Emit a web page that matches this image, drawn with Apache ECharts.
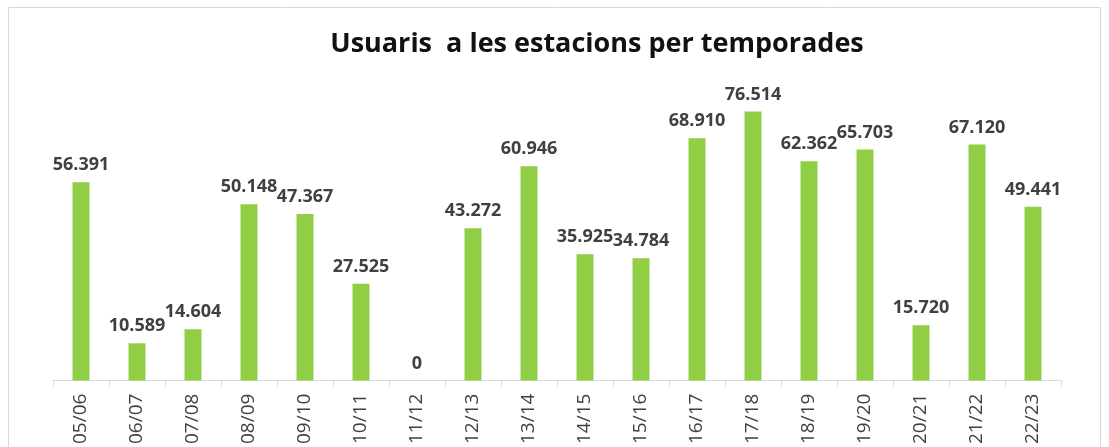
<!DOCTYPE html>
<html>
<head>
<meta charset="utf-8">
<script src="https://cdn.jsdelivr.net/npm/echarts@6/dist/echarts.min.js"></script>
<style>
  html, body { margin: 0; padding: 0; background: #fff; }
  #main { width: 1109px; height: 447px; }
</style>
</head>
<body>
<div id="main"></div>
<script>
// temporades i usuaris
var temporades = ['05/06','06/07','07/08','08/09','09/10','10/11','11/12','12/13','13/14',
                  '14/15','15/16','16/17','17/18','18/19','19/20','20/21','21/22','22/23'];
var usuaris = [56391, 10589, 14604, 50148, 47367, 27525, 0, 43272, 60946,
               35925, 34784, 68910, 76514, 62362, 65703, 15720, 67120, 49441];

function ambPunts(v){
	return String(v).replace(/\B(?=(\d{3})+(?!\d))/g, '.');
}

var myChart = echarts.init(document.getElementById('main'));
var option = {
	animation: false,
	backgroundColor: '#fff',
	title: {
		text: 'Usuaris  a les estacions per temporades',
		left: 592,
		top: 26,
		textAlign: 'center',
		textStyle: { fontFamily: 'Open Sans', fontSize: 27, fontWeight: 'bold', color: '#111' }
	},
	graphic: [{
		type: 'rect',
		shape: { x: 8.5, y: 7.5, width: 1092, height: 460 },
		style: { fill: null, stroke: '#d9d9d9', lineWidth: 1 },
		silent: true
	}],
	grid: { left: 53, right: 48, top: 64, bottom: 65 },
	xAxis: {
		type: 'category',
		data: temporades,
		axisLine: { lineStyle: { color: '#d9d9d9', width: 1 } },
		axisTick: { show: true, length: 6, lineStyle: { color: '#d9d9d9' } },
		axisLabel: {
			rotate: 90,
			margin: 13,
			fontFamily: 'Open Sans',
			fontSize: 19,
			color: '#404040',
			interval: 0
		}
	},
	yAxis: {
		type: 'value',
		min: 0,
		max: 90000,
		show: false
	},
	series: [{
		name: 'Usuaris',
		type: 'bar',
		data: usuaris,
		barWidth: 17,
		itemStyle: { color: '#8fce45' },
		label: {
			show: true,
			position: 'top',
			distance: 8,
			fontFamily: 'Open Sans',
			fontSize: 18,
			fontWeight: 'bold',
			color: '#404040',
			formatter: function(p){ return ambPunts(p.value); }
		}
	}]
};
myChart.setOption(option);
</script>
</body>
</html>
